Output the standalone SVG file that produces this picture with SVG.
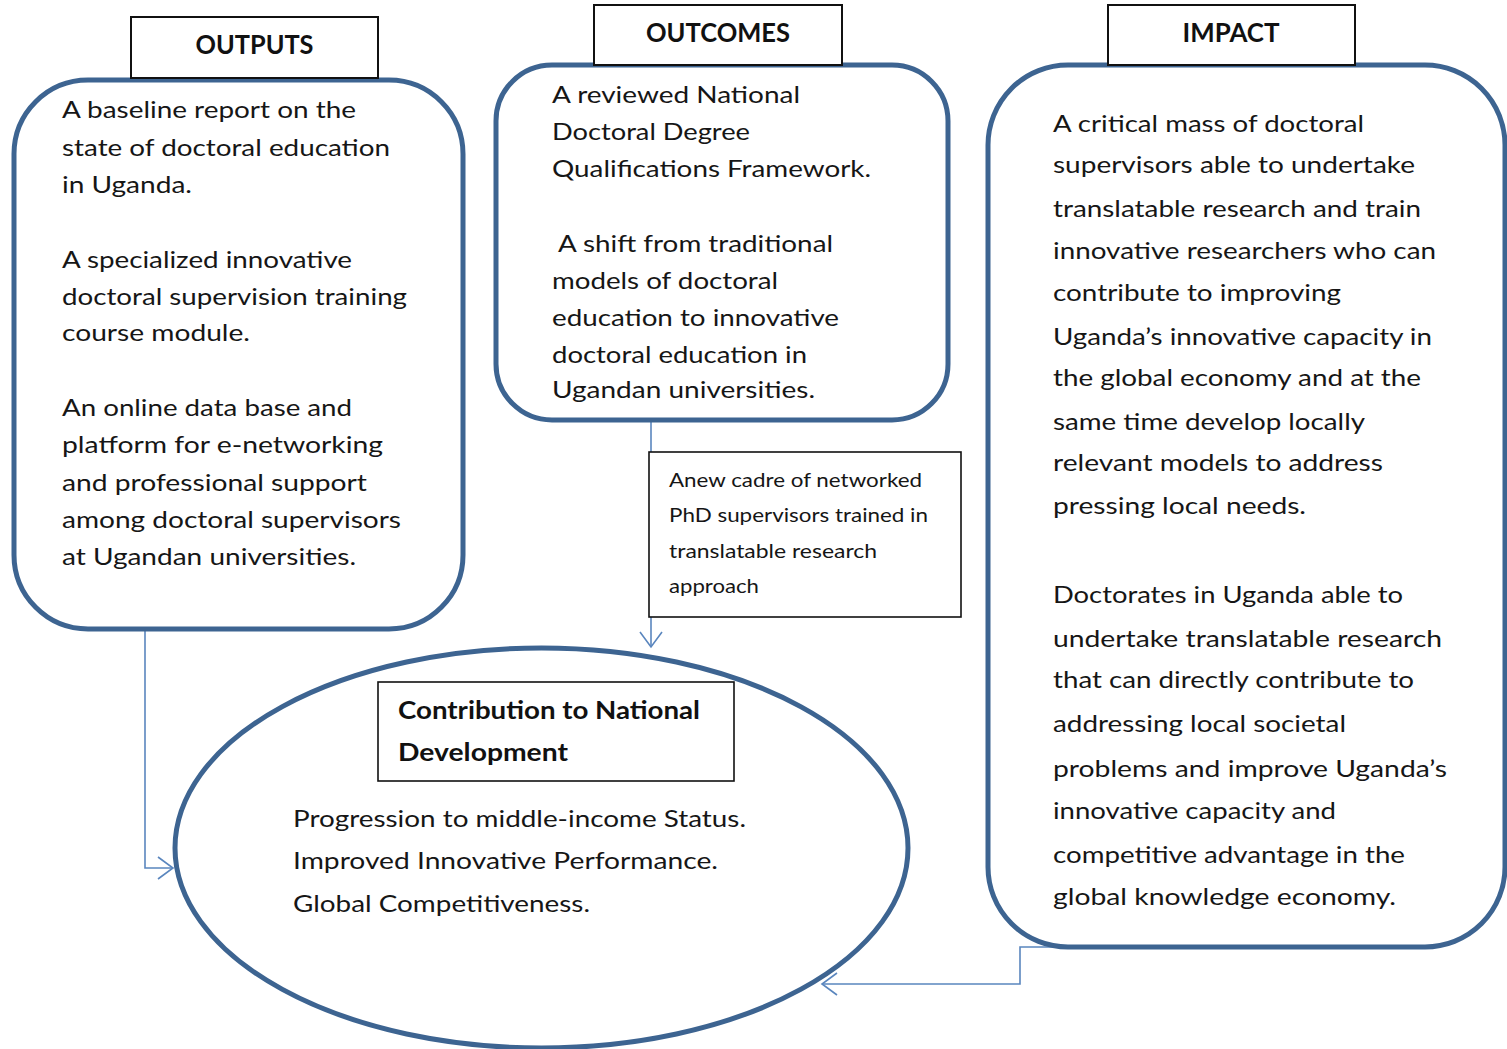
<svg xmlns="http://www.w3.org/2000/svg" width="1507" height="1049" viewBox="0 0 1507 1049">
  <style>
    .box{fill:#fff;stroke:#3D6491;stroke-width:5}
    .oval{fill:none;stroke:#3D6491;stroke-width:5}
    .hdr{fill:#fff;stroke:#111;stroke-width:2}
    .note{fill:#fff;stroke:#111;stroke-width:1.6}
    .t{font-family:Lato,"Liberation Sans",sans-serif;font-size:23px;fill:#161616}
    .s{font-family:Lato,"Liberation Sans",sans-serif;font-size:20px;fill:#161616}
    .b{font-family:Lato,"Liberation Sans",sans-serif;font-size:25px;font-weight:bold;fill:#111}
    .h{font-family:Lato,"Liberation Sans",sans-serif;font-size:26px;font-weight:bold;fill:#111;text-anchor:middle}
    .conn{fill:none;stroke:#5A86BE;stroke-width:1.6}
  </style>
  <defs>
    <marker id="arr" markerUnits="userSpaceOnUse" markerWidth="18" markerHeight="26" viewBox="0 0 18 26" refX="16" refY="13" orient="auto">
      <path d="M1,2 L16,13 L1,24" fill="none" stroke="#5A86BE" stroke-width="1.6"/>
    </marker>
  </defs>

  <rect width="1507" height="1049" fill="#fff"/>

  <!-- connectors -->
  <g id="connectors">
    <path class="conn" d="M115,629 H145 V868 H173" marker-end="url(#arr)"/>
    <path class="conn" d="M651,420 V647" marker-end="url(#arr)"/>
    <path class="conn" d="M1110,947 H1020 V984 H822" marker-end="url(#arr)"/>
  </g>

  <!-- outputs column -->
  <g id="outputs">
    <rect class="box" x="14" y="80" width="449" height="549" rx="74" ry="74"/>
    <rect class="hdr" x="131" y="17" width="247" height="61"/>
    <text class="h" x="254.5" y="54" textLength="118" lengthAdjust="spacingAndGlyphs">OUTPUTS</text>
    <text class="t" x="62" y="118" textLength="294" lengthAdjust="spacingAndGlyphs">A baseline report on the</text>
    <text class="t" x="62" y="155.5" textLength="328" lengthAdjust="spacingAndGlyphs">state of doctoral education</text>
    <text class="t" x="62" y="193" textLength="130" lengthAdjust="spacingAndGlyphs">in Uganda.</text>
    <text class="t" x="62" y="268" textLength="290" lengthAdjust="spacingAndGlyphs">A specialized innovative</text>
    <text class="t" x="62" y="305" textLength="345" lengthAdjust="spacingAndGlyphs">doctoral supervision training</text>
    <text class="t" x="62" y="341" textLength="188" lengthAdjust="spacingAndGlyphs">course module.</text>
    <text class="t" x="62" y="416" textLength="290" lengthAdjust="spacingAndGlyphs">An online data base and</text>
    <text class="t" x="62" y="453" textLength="321" lengthAdjust="spacingAndGlyphs">platform for e-networking</text>
    <text class="t" x="62" y="491" textLength="305" lengthAdjust="spacingAndGlyphs">and professional support</text>
    <text class="t" x="62" y="528" textLength="339" lengthAdjust="spacingAndGlyphs">among doctoral supervisors</text>
    <text class="t" x="62" y="565" textLength="294" lengthAdjust="spacingAndGlyphs">at Ugandan universities.</text>
  </g>

  <!-- outcomes column -->
  <g id="outcomes">
    <rect class="box" x="496" y="65" width="452" height="355" rx="56" ry="56"/>
    <rect class="hdr" x="594" y="5" width="248" height="60"/>
    <text class="h" x="718" y="42" textLength="144" lengthAdjust="spacingAndGlyphs">OUTCOMES</text>
    <text class="t" x="552" y="103" textLength="248" lengthAdjust="spacingAndGlyphs">A reviewed National</text>
    <text class="t" x="552" y="140" textLength="198" lengthAdjust="spacingAndGlyphs">Doctoral Degree</text>
    <text class="t" x="552" y="177" textLength="319" lengthAdjust="spacingAndGlyphs">Qualifications Framework.</text>
    <text class="t" x="558" y="252" textLength="275" lengthAdjust="spacingAndGlyphs">A shift from traditional</text>
    <text class="t" x="552" y="289" textLength="226" lengthAdjust="spacingAndGlyphs">models of doctoral</text>
    <text class="t" x="552" y="326" textLength="287" lengthAdjust="spacingAndGlyphs">education to innovative</text>
    <text class="t" x="552" y="363" textLength="255" lengthAdjust="spacingAndGlyphs">doctoral education in</text>
    <text class="t" x="552" y="398" textLength="263" lengthAdjust="spacingAndGlyphs">Ugandan universities.</text>
  </g>

  <!-- networked supervisors note -->
  <g id="cadre">
    <rect class="note" x="649" y="452" width="312" height="165"/>
    <text class="s" x="669" y="487" textLength="253" lengthAdjust="spacingAndGlyphs">Anew cadre of networked</text>
    <text class="s" x="669" y="522" textLength="259" lengthAdjust="spacingAndGlyphs">PhD supervisors trained in</text>
    <text class="s" x="669" y="558" textLength="208" lengthAdjust="spacingAndGlyphs">translatable research</text>
    <text class="s" x="669" y="593" textLength="90" lengthAdjust="spacingAndGlyphs">approach</text>
  </g>

  <!-- impact column -->
  <g id="impact">
    <rect class="box" x="988" y="65" width="517" height="882" rx="80" ry="80"/>
    <rect class="hdr" x="1108" y="5" width="247" height="60"/>
    <text class="h" x="1231" y="42" textLength="97" lengthAdjust="spacingAndGlyphs">IMPACT</text>
    <text class="t" x="1053" y="132" textLength="311" lengthAdjust="spacingAndGlyphs">A critical mass of doctoral</text>
    <text class="t" x="1053" y="173" textLength="362" lengthAdjust="spacingAndGlyphs">supervisors able to undertake</text>
    <text class="t" x="1053" y="217" textLength="368" lengthAdjust="spacingAndGlyphs">translatable research and train</text>
    <text class="t" x="1053" y="259" textLength="383" lengthAdjust="spacingAndGlyphs">innovative researchers who can</text>
    <text class="t" x="1053" y="301" textLength="288" lengthAdjust="spacingAndGlyphs">contribute to improving</text>
    <text class="t" x="1053" y="345" textLength="379" lengthAdjust="spacingAndGlyphs">Uganda’s innovative capacity in</text>
    <text class="t" x="1053" y="385.5" textLength="368" lengthAdjust="spacingAndGlyphs">the global economy and at the</text>
    <text class="t" x="1053" y="430" textLength="312" lengthAdjust="spacingAndGlyphs">same time develop locally</text>
    <text class="t" x="1053" y="470.5" textLength="330" lengthAdjust="spacingAndGlyphs">relevant models to address</text>
    <text class="t" x="1053" y="514" textLength="253" lengthAdjust="spacingAndGlyphs">pressing local needs.</text>
    <text class="t" x="1053" y="603" textLength="350" lengthAdjust="spacingAndGlyphs">Doctorates in Uganda able to</text>
    <text class="t" x="1053" y="647" textLength="389" lengthAdjust="spacingAndGlyphs">undertake translatable research</text>
    <text class="t" x="1053" y="688" textLength="361" lengthAdjust="spacingAndGlyphs">that can directly contribute to</text>
    <text class="t" x="1053" y="732" textLength="293" lengthAdjust="spacingAndGlyphs">addressing local societal</text>
    <text class="t" x="1053" y="777" textLength="394" lengthAdjust="spacingAndGlyphs">problems and improve Uganda’s</text>
    <text class="t" x="1053" y="819" textLength="283" lengthAdjust="spacingAndGlyphs">innovative capacity and</text>
    <text class="t" x="1053" y="863" textLength="352" lengthAdjust="spacingAndGlyphs">competitive advantage in the</text>
    <text class="t" x="1053" y="905" textLength="343" lengthAdjust="spacingAndGlyphs">global knowledge economy.</text>
  </g>

  <!-- national development -->
  <g id="national">
    <ellipse class="oval" cx="541.5" cy="848" rx="366.5" ry="200"/>
    <rect class="note" x="378" y="682" width="356" height="99"/>
    <text class="b" x="398" y="719" textLength="302" lengthAdjust="spacingAndGlyphs">Contribution to National</text>
    <text class="b" x="398" y="761" textLength="170" lengthAdjust="spacingAndGlyphs">Development</text>
    <text class="t" x="293" y="827" textLength="453" lengthAdjust="spacingAndGlyphs">Progression to middle-income Status.</text>
    <text class="t" x="293" y="869" textLength="425" lengthAdjust="spacingAndGlyphs">Improved Innovative Performance.</text>
    <text class="t" x="293" y="912" textLength="297" lengthAdjust="spacingAndGlyphs">Global Competitiveness.</text>
  </g>
</svg>
